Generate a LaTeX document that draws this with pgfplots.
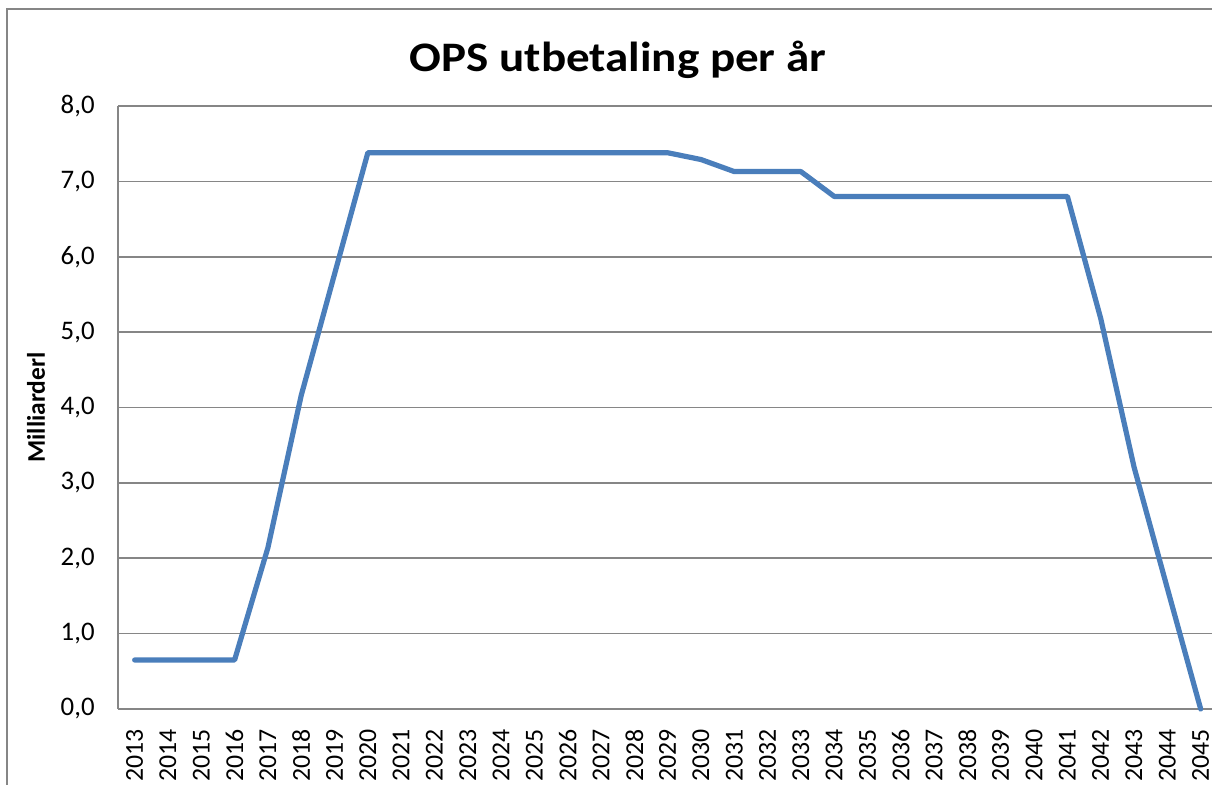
\documentclass[border=0pt]{standalone}
\usepackage{fontspec}
\setmainfont{Carlito}
\usepackage{pgfplots}
\pgfplotsset{compat=1.18}
\definecolor{lineblue}{HTML}{4A7EBB}
\definecolor{gridgray}{HTML}{868686}
\begin{document}
\begin{tikzpicture}[x=1pt,y=1pt]
\path[use as bounding box] (0,0) rectangle (606,392.5);
\draw[gridgray, line width=0.8pt] (3.5,0) -- (3.5,388) -- (606,388);
\begin{axis}[
  at={(59pt,38pt)}, anchor=south west,
  scale only axis, width=547pt, height=301.5pt,
  xmin=2012.5, xmax=2045.34, ymin=0, ymax=8,
  clip=false,
  axis lines=left, axis line style={-, gridgray, line width=0.8pt},
  ymajorgrids, grid style={gridgray, line width=0.8pt},
  major tick length=0pt,
  /pgf/number format/assume math mode=true,
  xtick={2013,2014,...,2045},
  xticklabels={2013,2014,2015,2016,2017,2018,2019,2020,2021,2022,2023,2024,2025,2026,2027,2028,2029,2030,2031,2032,2033,2034,2035,2036,2037,2038,2039,2040,2041,2042,2043,2044,2045},
  xticklabel style={yshift=-10pt, rotate=90, anchor=east, inner sep=0pt, font=\fontsize{12.9}{15}\selectfont},
  ytick={0,1,2,3,4,5,6,7,8},
  yticklabels={{0,0},{1,0},{2,0},{3,0},{4,0},{5,0},{6,0},{7,0},{8,0}},
  yticklabel style={anchor=east, inner sep=0pt, xshift=-11.5pt, font=\fontsize{13.4}{15}\selectfont},
  ylabel={Milliarderl},
  ylabel style={at={(axis description cs:-0.0749,0.5)}, anchor=center, font=\fontsize{12.7}{14}\selectfont\bfseries},
  title={OPS utbetaling per år},
  title style={at={(axis description cs:0.457,1.0365)}, anchor=base, xscale=1.12, font=\fontsize{21}{24}\selectfont\bfseries},
]
\addplot[lineblue, line width=2.6pt, line join=round, line cap=round] coordinates {
(2013,0.65) (2014,0.65) (2015,0.65) (2016,0.65) (2017,2.14) (2018,4.16) (2019,5.77) (2020,7.38)
(2021,7.38) (2022,7.38) (2023,7.38) (2024,7.38) (2025,7.38) (2026,7.38) (2027,7.38) (2028,7.38) (2029,7.38)
(2030,7.29) (2031,7.13) (2032,7.13) (2033,7.13) (2034,6.80)
(2035,6.80) (2036,6.80) (2037,6.80) (2038,6.80) (2039,6.80) (2040,6.80) (2041,6.80)
(2042,5.18) (2043,3.21) (2044,1.60) (2045,0)
};
\end{axis}
\end{tikzpicture}
\end{document}
